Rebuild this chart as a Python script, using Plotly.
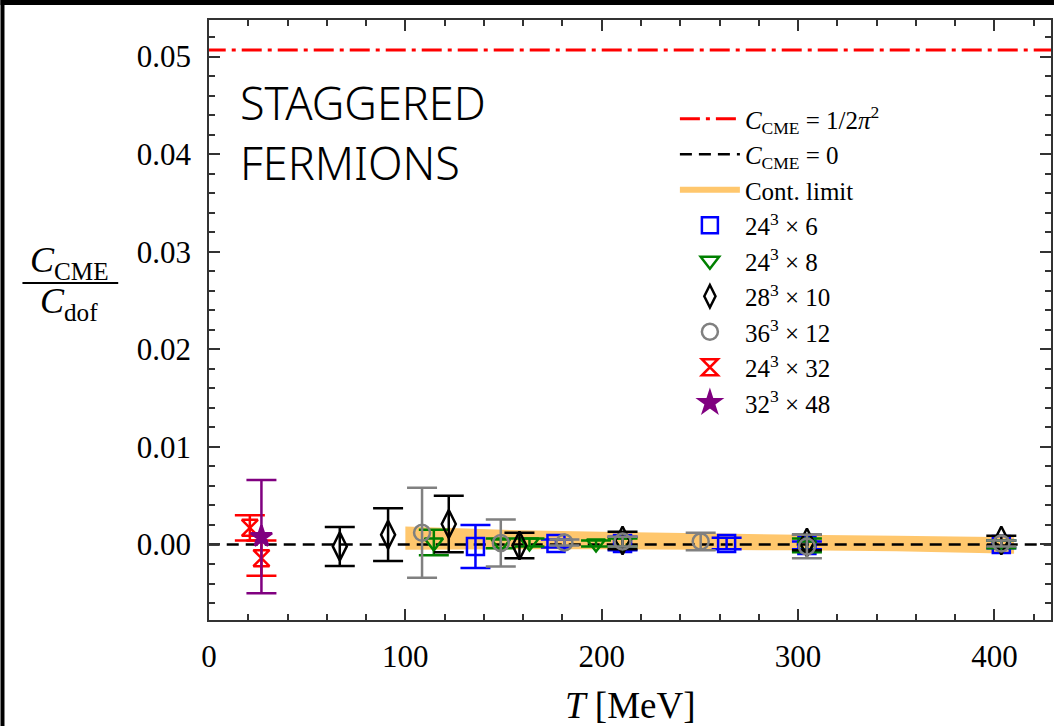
import numpy as np
import plotly.graph_objects as go

# ---------------- data ----------------
T_6 = [135.7, 176.7, 210.6, 263.6, 304.5, 403.5]
C_6 = [-0.0002, 0.0001, 0.0001, 0.0001, -0.0001, 0.0000]
E_6 = [0.0022, 0.0004, 0.0007, 0.0006, 0.0004, 0.0004]

T_8 = [114.5, 148.6, 163.2, 197.1, 210.6, 304.5, 403.5]
C_8 = [0.0002, 0.0001, 0.0002, 0.0001, 0.0002, -0.0001, 0.0000]
E_8 = [0.0013, 0.0005, 0.0004, 0.0003, 0.0004, 0.0007, 0.0004]

T_10 = [66.6, 91.2, 122.1, 158.1, 210.6, 304.5, 403.5]
C_10 = [-0.0002, 0.0010, 0.0021, -0.0001, 0.0004, 0.0002, 0.0004]
E_10 = [0.0020, 0.0027, 0.0029, 0.0013, 0.0009, 0.0008, 0.0005]

T_12 = [108.5, 148.6, 181.0, 210.6, 250.4, 304.5, 403.5]
C_12 = [0.0012, 0.00015, 0.0002, 0.0003, 0.0003, -0.0002, 0.0001]
E_12 = [0.0046, 0.0024, 0.0003, 0.0005, 0.0009, 0.0012, 0.0003]

T_32 = [20.8, 26.7]
C_32 = [0.0017, -0.0014]
E_32 = [0.0013, 0.0018]

T_48 = [26.7]
C_48 = [0.0008]
E_48 = [0.0058]

band_T = [100, 150, 200, 250, 300, 350, 410]
band_C = [0.00065, 0.0005, 0.0004, 0.0003, 0.0002, 0.0001, -0.0001]
band_E = [0.0012, 0.0010, 0.0009, 0.00085, 0.0008, 0.0008, 0.00085]

C_free = 1.0 / (2.0 * np.pi ** 2)
x_ticks = [0, 100, 200, 300, 400]
y_ticks = [0.00, 0.01, 0.02, 0.03, 0.04, 0.05]

# ---------------- geometry ----------------
W, H = 1056, 726
L, R, TOP, B = 209, 3, 20, 106
PW, PH = W - L - R, H - TOP - B


def px(x):
    return (x - L) / PW


def py(y):
    return (H - B - y) / PH


SERIF = "Liberation Serif"

fig = go.Figure()

bx = list(band_T) + list(band_T[::-1])
by = [c + e for c, e in zip(band_C, band_E)] + [c - e for c, e in zip(band_C[::-1], band_E[::-1])]

fig.add_trace(go.Scatter(x=bx, y=by, fill="toself", mode="none",
                         fillcolor="rgba(255,180,60,0.75)",
                         name="Cont. limit", legendgroup="c", legendrank=3))
fig.add_trace(go.Scatter(x=[-20, 460], y=[C_free, C_free], mode="lines",
                         line=dict(color="red", width=3, dash="20px,6px,4px,6px"),
                         name="<i>C</i><sub>CME</sub> = 1/2<i>π</i><sup>2</sup>", legendgroup="a",
                         legendrank=1))
fig.add_trace(go.Scatter(x=[-20, 460], y=[0, 0], mode="lines",
                         line=dict(color="black", width=2.5, dash="12px,7px"),
                         name="<i>C</i><sub>CME</sub> = 0", legendgroup="b", legendrank=2))

series = [
    (T_6, C_6, E_6, "blue", "square-open", 17, "24<sup>3</sup> × 6"),
    (T_8, C_8, E_8, "green", "triangle-down-open", 16, "24<sup>3</sup> × 8"),
    (T_10, C_10, E_10, "black", "diamond-tall-open", 20, "28<sup>3</sup> × 10"),
    (T_12, C_12, E_12, "gray", "circle-open", 16, "36<sup>3</sup> × 12"),
    (T_32, C_32, E_32, "red", "hourglass-open", 16, "24<sup>3</sup> × 32"),
    (T_48, C_48, E_48, "purple", "star", 16, "32<sup>3</sup> × 48"),
]
for i, (t, c, e, col, sym, sz, nm) in enumerate(series):
    fig.add_trace(go.Scatter(
        x=t, y=c, mode="markers", name=nm, legendgroup="s%d" % i, legendrank=4 + i,
        marker=dict(symbol=sym, size=sz, color=col, line=dict(color=col, width=2.5)),
        error_y=dict(type="data", array=e, visible=True, color=col, thickness=2.5, width=15),
    ))

axis_common = dict(showline=True, linecolor="#333", linewidth=1.5, mirror="ticks",
                   ticks="inside", tickcolor="#333", tickwidth=1.5, ticklen=11,
                   showgrid=False, zeroline=False,
                   tickfont=dict(family=SERIF, size=31, color="black"))

fig.update_xaxes(range=[0, 428.8], tickvals=x_ticks, ticktext=[str(v) for v in x_ticks],
                 minor=dict(ticks="inside", dtick=20, ticklen=6, tickcolor="#333", tickwidth=1.5),
                 ticklabelstandoff=8, **axis_common)
fig.update_yaxes(range=[-0.00774, 0.05374], tickvals=y_ticks, ticktext=["%.2f" % v for v in y_ticks],
                 minor=dict(ticks="inside", dtick=0.002, tick0=0, ticklen=6, tickcolor="#333", tickwidth=1.5),
                 ticklabelstandoff=10, **axis_common)

ann = [
    dict(x=0.5, y=py(705), xref="paper", yref="paper", text="<i>T</i> [MeV]", showarrow=False,
         font=dict(family=SERIF, size=37, color="black"), xanchor="center", yanchor="middle"),
    dict(x=px(69), y=py(262), xref="paper", yref="paper", text="<i>C</i><sub>CME</sub>", showarrow=False,
         font=dict(family=SERIF, size=36, color="black"), xanchor="center", yanchor="middle"),
    dict(x=px(69), y=py(303), xref="paper", yref="paper", text="<i>C</i><sub>dof</sub>", showarrow=False,
         font=dict(family=SERIF, size=36, color="black"), xanchor="center", yanchor="middle"),
    dict(x=px(238), y=py(102), xref="paper", yref="paper", text="STAGGERED", showarrow=False,
         font=dict(family="Noto Sans", size=45, color="black", weight=300), xanchor="left", yanchor="middle"),
    dict(x=px(238), y=py(162), xref="paper", yref="paper", text="FERMIONS", showarrow=False,
         font=dict(family="Noto Sans", size=45, color="black", weight=300), xanchor="left", yanchor="middle"),
]

shapes = [
    dict(type="line", xref="paper", yref="paper", x0=px(22), x1=px(118), y0=py(283), y1=py(283),
         line=dict(color="black", width=2)),
    dict(type="rect", xref="paper", yref="paper", x0=px(0), x1=px(W), y0=py(0), y1=py(5),
         fillcolor="black", line=dict(width=0)),
    dict(type="rect", xref="paper", yref="paper", x0=px(0), x1=px(4), y0=py(0), y1=py(H),
         fillcolor="black", line=dict(width=0)),
]

fig.update_layout(
    width=W, height=H, margin=dict(l=L, r=R, t=TOP, b=B),
    paper_bgcolor="white", plot_bgcolor="white",
    showlegend=True,
    legend=dict(x=px(676), y=py(96), xanchor="left", yanchor="top",
                bgcolor="rgba(0,0,0,0)", borderwidth=0, tracegroupgap=0,
                font=dict(family=SERIF, size=25, color="black"), itemwidth=60),
    annotations=ann, shapes=shapes,
)

fig.write_html("out.html")
